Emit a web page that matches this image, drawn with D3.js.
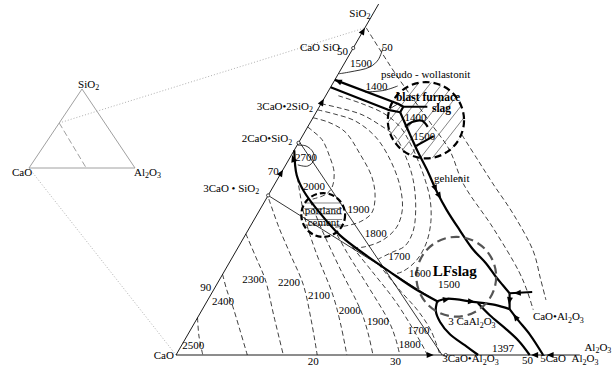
<!DOCTYPE html>
<html><head><meta charset="utf-8">
<script src="https://cdn.jsdelivr.net/npm/d3@7"></script>
<style>
body{margin:0;background:#fff}
svg text{font-family:"Liberation Serif","Times New Roman",serif;font-size:11px;fill:#000}
</style></head><body>
<svg id="c" width="612" height="368"></svg>
<script>
// ---- DATA: compositions [SiO2 wt%, Al2O3 wt%] (CaO = rest) ----
const axisSiO2Max = 57.4, axisAl2O3Max = 57.2;

// isotherms, lower (CaO / C3S field)
const iso2500 = [[6.1,0],[3.1,1.7],[0,3.8]];
const iso2400 = [[13.2,0],[10.6,1.9],[7.9,4.1],[4.1,7.0],[0,10.1]];
const iso2300 = [[19.8,0],[15.9,3.4],[12.3,6.5],[6.2,10.8],[0,15.2]];
const iso2200 = [[25.5,0.4],[20.8,4.2],[16.2,8.2],[11.6,12.2],[5.7,16.3],[0,20.0]];
const iso2100 = [[29.0,2.7],[22.9,6.7],[17.2,11.1],[9.7,17.4],[4.9,20.9],[0,24.2]];
const iso2000b = [[25.2,6.4],[20.4,10.5],[14.2,16.1],[7.2,22.6],[3.6,25.4],[0,27.9]];
const iso1900b = [[20.8,11.9],[16.8,15.8],[11.8,21.0],[5.4,27.5],[2.5,29.9],[0,31.7]];
const iso1800b = [[17.7,16.1],[13.7,20.9],[8.5,27.0],[1.8,33.9],[0,35.6]];
const iso1700b = [[14.9,21.2],[10.6,26.4],[7.2,30.7],[3.9,34.2],[0,37.4]];
// isotherms, upper (C2S field, U-shaped)
const iso2000u = [[37.3,0],[36.6,1.1],[35.2,3.1],[32.5,5.5],[29.8,7.5],[27.3,8.4],[26.2,8.0],[25.5,6.6]];
const iso1900u = [[38.8,0],[38.1,2.5],[36.5,5.7],[33.0,9.5],[29.1,13.2],[25.8,15.3],[23.2,16.1],[21.8,15.2],[21.1,13.4],[20.9,11.8]];
const iso1800u = [[40.1,0],[39.4,2.8],[38.3,6.2],[35.7,10.4],[31.9,14.4],[27.5,18.0],[23.7,20.2],[20.9,20.8],[18.8,19.9],[17.7,17.9],[17.5,16.2]];
const iso1700u = [[41.1,0],[40.4,3.0],[39.3,6.7],[37.6,10.1],[35.8,13.1],[32.7,16.1],[28.6,19.3],[23.7,22.1],[20.1,23.5],[17.8,23.5],[16.8,22.2],[15.7,20.8]];
const iso1600u = [[42.4,1.8],[41.1,5.8],[39.4,9.9],[37.3,13.1],[34.8,15.7],[31.9,18.3],[28.6,21.0],[25.4,23.3],[21.8,25.2],[18.3,26.3],[15.4,26.3],[13.6,25.2],[13.2,24.0]];
// isotherms right of gehlenite boundary
const isoR1 = [[53.5,0.2],[45.8,8.3],[38.1,16.9],[33.5,22.0],[28.0,26.7],[20.9,34.4],[13.7,41.7],[10.6,44.4],[7.4,46.9]];
const isoR2 = [[36.0,22.5],[31.9,26.8],[28.0,30.9],[23.1,36.2],[17.0,42.1],[12.6,45.3],[9.0,47.9]];
// thin solid lines
const iso2700 = [[34.3,0.1],[34.2,1.3],[33.2,2.8],[31.9,3.6],[30.9,3.2],[31.1,1.7]];
const iso1500top = [[46.0,0.1],[46.3,1.5],[47.1,3.9],[48.3,4.5],[50.2,4.2]];
const iso1400top = [[43.0,5.3],[43.3,7.9],[44.0,9.4]];
const joinC3S = [[26.1,0],[8.6,32.9]];
const joinC2S_C3A = [[34.9,0],[0,37.7]];
const bfBox = [[40.1,10.0],[41.1,10.9]];
// thick boundary lines
const bWollUpper = [[45.0,0],[41.1,10.9],[40.6,11.9]];
const bWollLower = [[43.8,0],[40.1,10.0],[39.7,11.9]];
const bJunction = [[39.7,11.9],[40.6,11.9],[40.6,15.3]];
const bGehlenite = [[39.7,11.9],[33.5,17.4],[30.3,20.4],[26.7,23.6],[23.7,26.5],[20.4,30.0],[17.3,33.4],[15.0,36.4],[12.8,38.9],[11.4,40.6],[10.1,42.2]];
const bfIso1400 = [[37.3,13.8],[38.1,14.4],[38.3,15.7],[37.3,17.0]];
const bfIso1500 = [[34.2,16.9],[35.8,18.6]];
const bC2S = [[33.5,0],[29.4,2.4],[26.7,4.8],[23.2,8.8],[19.6,13.4],[16.4,18.6],[13.6,23.5],[10.8,28.5],[8.8,32.6]];
const bC3Aupper = [[8.8,32.6],[9.2,33.8],[8.7,37.7],[8.2,41.1],[7.5,43.5]];
const bC3Aloop = [[8.8,32.6],[7.2,33.2],[5.4,34.7],[3.4,37.1],[1.6,40.1],[0,42.8]];
const bC12A7a = [[8.5,38.5],[6.5,41.2],[4.4,44.4],[2.3,47.4],[0,50.1]];
const bC12A7b = [[7.5,43.5],[5.7,45.6],[3.3,48.5],[0,52.0]];
const bCA = [[10.1,42.2],[10.3,45.3]];
const bCAdown = [[10.1,42.2],[7.5,43.5]];
// slag regions: centre composition and radius (wt% units)
const regionBF = [38.4,16.2], radiusBF = 5.4;
const regionLF = [12.8,33.3], radiusLF = 5.65;
const regionPC = [22.9,9.4], radiusPC = 3.1;
// arrows: [tip, from]
const arrowMarks = [
 [[53.5,0],[51.5,0]], [[41.9,0],[40.0,0]], [[30.3,0],[28.3,0]],
 [[45.0,0],[44.4,1.6]], [[32.7,0.1],[30.6,1.7]],
 [[26.7,23.6],[28.5,22.0]], [[25.5,24.8],[26.7,23.6]],
 [[9.2,34.2],[9.0,33.3]], [[8.7,38.0],[8.8,36.8]],
 [[10.1,42.8],[10.2,44.2]], [[8.3,43.0],[9.7,42.5]], [[6.7,44.4],[5.6,45.7]],
 [[0,36.5],[0,35.4]], [[0,50.3],[0,51.3]], [[0,52.5],[0,53.5]]
];
const compoundPts = [[50.2,0],[34.7,0],[26.1,0],[0,38.2]];
// text labels: [text, SiO2, Al2O3]  ("_x" = subscript)
const labelsText = [
 ["SiO_2",55.3,-3.1],["CaO SiO",49.7,-7.3],["50",49.0,-1.7],["50",49.7,4.3],["1500",47.1,1.1],
 ["pseudo - wollastonit",45.3,6.4],["1400",43.3,5.2],["1400",38.3,13.2],["1500",35.2,16.0],
 ["gehlenit",28.3,22.4],["3CaO•2SiO_2",40.1,-8.6],["2CaO•SiO_2",34.8,-8.1],["70",29.4,-1.7],
 ["3CaO • SiO_2",26.7,-9.5],["2700",31.7,1.0],["2000",27.0,4.5],["portland",23.1,6.7],["cement",21.1,8.1],
 ["1900",23.2,12.7],["1800",19.3,17.1],["1700",15.5,22.3],["1600",12.8,26.6],["1500",11.0,31.6],
 ["3 CaAl_2O_3",4.9,36.1],["CaO•Al_2O_3",5.7,47.7],["1397",0.5,44.5],["Al_2O_3",0.7,57.5],
 ["5CaO\u00A0\u00A0Al_2O_3",-1.2,52.2],["3CaO•Al_2O_3",-1.2,38.3],["CaO",-0.7,-2.8],["90",10.5,-1.8],
 ["2500",1.0,0.4],["2400",8.2,1.0],["2300",11.8,3.5],["2200",11.3,8.8],["2100",9.2,14.1],
 ["2000",6.7,19.7],["1900",4.9,24.6],["1700",3.4,31.1],["1800",1.1,31.0]
];
const bottomTickLabels = [["20",-1.6,19.45],["30",-1.6,31.1],["50",-1.4,49.7]];
const labelsBold = [["blast furnace",41.5,10.4],["slag",39.7,16.4]];
const labelsBig = [["LFslag",12.9,29.9]];
// inset
const insetZoomEdge = [[57,0],[0,54]];
const insetLabels = [["SiO_2",101.3,-4.4],["CaO",-10.1,-11.0],["Al_2O_3",-10.1,104.1]];
const connectTop = [[57,0],[53.5,0]], connectCaO = [[0,0],[0,0]];

// ---- SCALES ----
const svg = d3.select("#c");
const x = d3.scaleLinear().domain([0,100]).range([176,882]);
const y = d3.scaleLinear().domain([0,100]).range([355,355-611.4]);
const P = d => [x(d[1] + d[0]/2), y(d[0])];
const xi = d3.scaleLinear().domain([0,100]).range([29,135]);
const yi = d3.scaleLinear().domain([0,100]).range([168,89]);
const Pi = d => [xi(d[1] + d[0]/2), yi(d[0])];

const smooth = d3.line().x(d=>P(d)[0]).y(d=>P(d)[1]).curve(d3.curveCatmullRom.alpha(0.5));
const straight = d3.line().x(d=>P(d)[0]).y(d=>P(d)[1]);
const insetLine = d3.line().x(d=>Pi(d)[0]).y(d=>Pi(d)[1]);

function label(g, text, px, py, cls){
  const t = g.append("text").attr("x",px).attr("y",py).attr("class",cls||null);
  const parts=[]; let buf="";
  for(let i=0;i<text.length;i++){
    if(text[i]==="_"){ if(buf){parts.push([buf,false]);buf="";} parts.push([text[i+1],true]); i++; }
    else buf+=text[i];
  }
  if(buf) parts.push([buf,false]);
  let sub=false;
  parts.forEach(([s,isSub])=>{
    const ts=t.append("tspan").text(s);
    if(isSub){ ts.attr("font-size",8); if(!sub){ts.attr("dy",2.5);sub=true;} }
    else if(sub){ ts.attr("dy",-2.5); sub=false; }
  });
  return t;
}

// ---- INSET ----
const gi = svg.append("g");
gi.append("path").attr("d", insetLine([[0,0],[0,100],[100,0],[0,0]])).attr("fill","none").attr("stroke","#a0a0a0").attr("stroke-width",1);
gi.append("path").attr("d", insetLine(insetZoomEdge)).attr("fill","none").attr("stroke","#a0a0a0").attr("stroke-width",1).attr("stroke-dasharray","6,3");
insetLabels.forEach(l=>{ const p=Pi([l[1],l[2]]); label(gi,l[0],p[0],p[1]); });
// connectors
[[connectTop[0],connectTop[1]],[connectCaO[0],connectCaO[1]]].forEach(([a,b])=>{
  const p=Pi(a), q=P(b);
  svg.append("line").attr("x1",p[0]).attr("y1",p[1]).attr("x2",q[0]).attr("y2",q[1])
    .attr("stroke","#b0b0b0").attr("stroke-width",1).attr("stroke-dasharray","1,2");
});

// ---- HATCHING ----
const defs = svg.append("defs");
function clipCircle(id, c, r){
  const p=P(c), rp=x(r)-x(0);
  defs.append("clipPath").attr("id",id).append("circle").attr("cx",p[0]).attr("cy",p[1]).attr("r",rp);
  return {p, rp};
}
const bf = clipCircle("clipBF", regionBF, radiusBF);
const gh = svg.append("g").attr("clip-path","url(#clipBF)");
{
  const th = 52*Math.PI/180, dx=Math.cos(th), dy=-Math.sin(th), nx=-dy, ny=dx;
  for(let d=-bf.rp; d<=bf.rp; d+=9.5){
    const cx=bf.p[0]+nx*d, cy=bf.p[1]+ny*d, L=bf.rp*1.2;
    gh.append("line").attr("x1",cx-dx*L).attr("y1",cy-dy*L).attr("x2",cx+dx*L).attr("y2",cy+dy*L)
      .attr("stroke","#333").attr("stroke-width",0.6);
  }
}
const pc = clipCircle("clipPC", regionPC, radiusPC);
const gp = svg.append("g").attr("clip-path","url(#clipPC)");
for(let d=-12; d<=12; d+=5.5){
  gp.append("line").attr("x1",pc.p[0]-pc.rp+3).attr("x2",pc.p[0]+pc.rp-3).attr("y1",pc.p[1]+d).attr("y2",pc.p[1]+d)
    .attr("stroke","#555").attr("stroke-width",0.7);
}

// ---- AXES ----
svg.append("path").attr("d",straight([[axisSiO2Max,0],[0,0],[0,axisAl2O3Max]])).attr("fill","none").attr("stroke","#000").attr("stroke-width",0.9);

// ---- DASHED ISOTHERMS ----
[iso2500,iso2400,iso2300,iso2200,iso2100,iso2000b,iso1900b,iso1800b,iso1700b,
 iso2000u,iso1900u,iso1800u,iso1700u,iso1600u,isoR1,isoR2].forEach(d=>{
  svg.append("path").attr("d",smooth(d)).attr("fill","none").attr("stroke","#000").attr("stroke-width",0.75).attr("stroke-dasharray","5,3");
});
// ---- THIN SOLID ----
[iso2700,iso1500top,iso1400top].forEach(d=>{
  svg.append("path").attr("d",smooth(d)).attr("fill","none").attr("stroke","#000").attr("stroke-width",0.8);
});
[joinC3S,joinC2S_C3A,bfBox].forEach(d=>{
  svg.append("path").attr("d",straight(d)).attr("fill","none").attr("stroke","#000").attr("stroke-width",0.8);
});
// ---- THICK BOUNDARIES ----
[bWollUpper,bWollLower,bJunction,bfIso1500,bCA,bCAdown].forEach(d=>{
  svg.append("path").attr("d",straight(d)).attr("fill","none").attr("stroke","#000").attr("stroke-width",2.2).attr("stroke-linejoin","round");
});
[bGehlenite,bfIso1400,bC2S,bC3Aupper,bC3Aloop,bC12A7a,bC12A7b].forEach(d=>{
  svg.append("path").attr("d",smooth(d)).attr("fill","none").attr("stroke","#000").attr("stroke-width",2.2).attr("stroke-linejoin","round");
});

// ---- REGIONS ----
[[regionBF,radiusBF,"#000","7,4"],[regionPC,radiusPC,"#000","6,3"],[regionLF,radiusLF,"#555","9,5"]].forEach(([c,r,col,da])=>{
  const p=P(c);
  svg.append("circle").attr("cx",p[0]).attr("cy",p[1]).attr("r",x(r)-x(0)).attr("fill","none")
    .attr("stroke",col).attr("stroke-width",2.2).attr("stroke-dasharray",da);
});

// ---- ARROWS ----
arrowMarks.forEach(([tip,from])=>{
  const p=P(tip), q=P(from);
  const ang=Math.atan2(p[1]-q[1],p[0]-q[0]), ux=Math.cos(ang), uy=Math.sin(ang);
  const bx=p[0]-ux*7, by=p[1]-uy*7;
  svg.append("path").attr("d",`M${p[0]},${p[1]}L${bx-uy*3},${by+ux*3}L${bx+uy*3},${by-ux*3}Z`).attr("fill","#000");
});
compoundPts.forEach(c=>{
  const p=P(c);
  svg.append("circle").attr("cx",p[0]).attr("cy",p[1]).attr("r",1.6).attr("fill","#fff").attr("stroke","#000").attr("stroke-width",0.7);
});

// ---- LABELS ----
const gl = svg.append("g");
labelsText.concat(bottomTickLabels).forEach(l=>{ const p=P([l[1],l[2]]); label(gl,l[0],p[0],p[1]); });
labelsBold.forEach(l=>{ const p=P([l[1],l[2]]); label(gl,l[0],p[0],p[1]).attr("font-weight","bold").style("font-size","11.5px"); });
labelsBig.forEach(l=>{ const p=P([l[1],l[2]]); label(gl,l[0],p[0],p[1]).attr("font-weight","bold").style("font-size","15px"); });
</script>
</body></html>
